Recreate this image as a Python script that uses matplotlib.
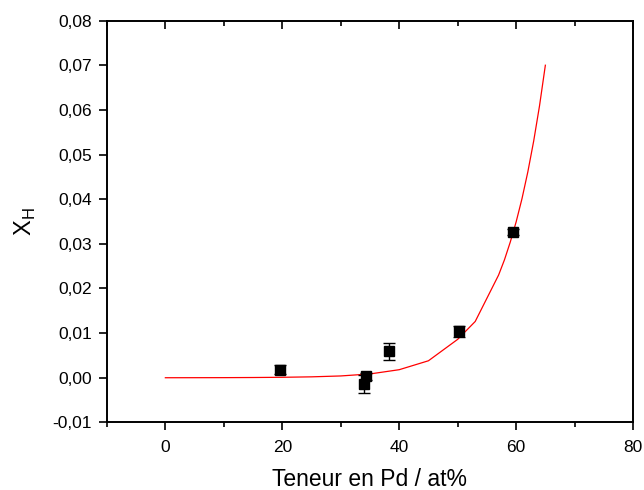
import numpy as np
import matplotlib
matplotlib.use("Agg")
import matplotlib.pyplot as plt
from matplotlib.ticker import MultipleLocator, FuncFormatter

plt.rcParams['font.family'] = ['Liberation Sans', 'DejaVu Sans']

# measured points
pd_content = [19.6, 33.9, 34.3, 38.3, 50.3, 59.5]
x_h = [0.0018, -0.0014, 0.0003, 0.0059, 0.0104, 0.0326]
x_h_err = [0.0010, 0.0020, 0.0008, 0.0019, 0.0012, 0.0007]

# model curve
fit_x = [0, 5, 10, 15, 20, 25, 30, 35, 40, 45, 50, 53, 57, 58, 59, 60, 61, 62, 63, 64, 65]
fit_y = [0.0, 0.00001, 0.00002, 0.00005, 0.0001, 0.0002, 0.0004, 0.00085, 0.0018,
         0.0038, 0.0086, 0.0126, 0.0230, 0.0264, 0.0304, 0.0349, 0.0401, 0.0461,
         0.0530, 0.0609, 0.0700]

fig = plt.figure(figsize=(6.44, 4.9), dpi=100)
ax = fig.add_axes([0.166, 0.138, 0.817, 0.82])

ax.plot(fit_x, fit_y, color='red', lw=0.9, zorder=2)
ax.errorbar(pd_content, x_h, yerr=x_h_err, fmt='s', color='black', ms=7.5,
            ecolor='black', elinewidth=1.0, capsize=4, capthick=1.0, zorder=3)

ax.set_xlim(-10, 80)
ax.set_ylim(-0.01, 0.08)
ax.xaxis.set_major_locator(MultipleLocator(20))
ax.xaxis.set_minor_locator(MultipleLocator(10))
ax.yaxis.set_major_locator(MultipleLocator(0.01))
ax.yaxis.set_major_formatter(FuncFormatter(lambda v, p: f"{v:.2f}".replace('.', ',').replace('-0,00', '0,00')))

ax.tick_params(axis='x', which='major', direction='out', length=6, width=1.2,
               labelsize=12.5, top=False, pad=7)
ax.tick_params(axis='x', which='minor', direction='out', length=3.5, width=1.2, top=False)
ax.tick_params(axis='y', which='major', direction='out', length=6, width=1.2,
               labelsize=12.5, right=False, pad=5)

# top axis: inward ticks, no labels
top = ax.twiny()
top.set_xlim(ax.get_xlim())
top.xaxis.set_major_locator(MultipleLocator(20))
top.xaxis.set_minor_locator(MultipleLocator(10))
top.tick_params(axis='x', which='major', direction='in', length=6, width=1.2, labeltop=False)
top.tick_params(axis='x', which='minor', direction='in', length=3.5, width=1.2)

for a in (ax, top):
    for s in a.spines.values():
        s.set_linewidth(1.2)

ax.set_xlabel('Teneur en Pd / at%', fontsize=16.5, labelpad=9)
ax.set_ylabel('X$_\\mathregular{H}$', fontsize=17, labelpad=10)

fig.savefig('out.png', dpi=100)
